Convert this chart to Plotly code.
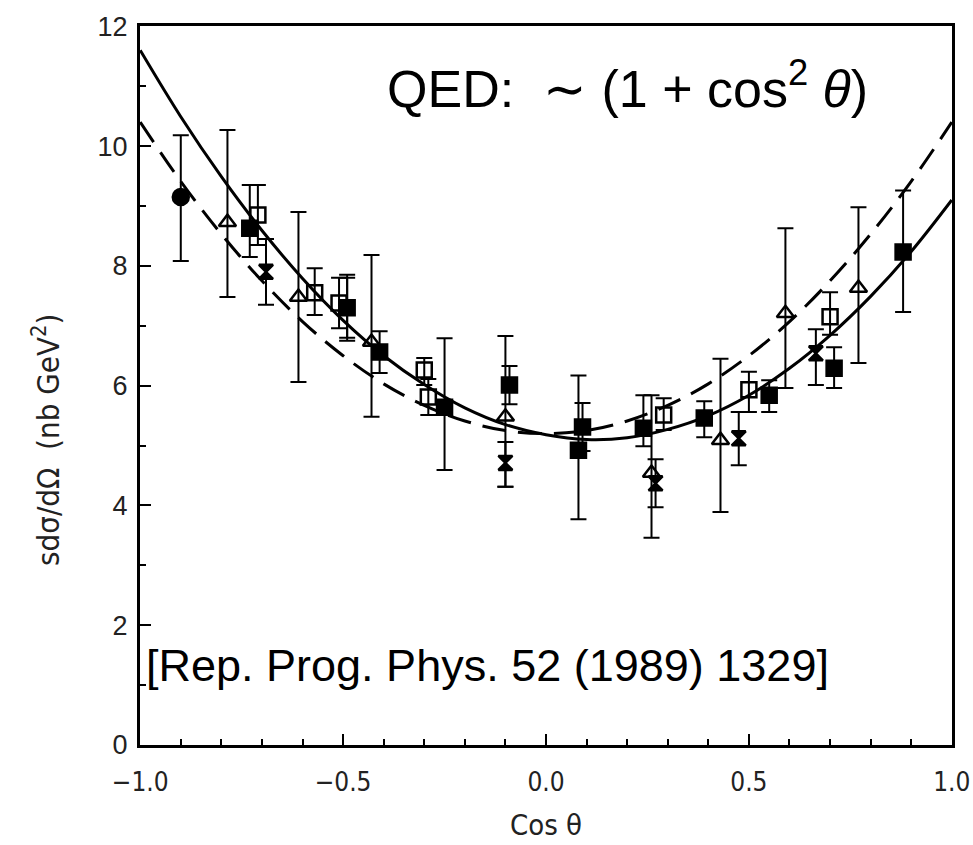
import plotly.graph_objects as go

# ---- theory curves ----
curve_x = [-1.0, -0.9, -0.8, -0.7, -0.6, -0.5, -0.4, -0.3, -0.2, -0.1, 0.0,
           0.1, 0.2, 0.3, 0.4, 0.5, 0.6, 0.7, 0.8, 0.9, 1.0]
solid_y = [11.60, 10.49, 9.49, 8.59, 7.79, 7.09, 6.50, 6.02, 5.63, 5.35, 5.18,
           5.10, 5.13, 5.27, 5.50, 5.84, 6.29, 6.84, 7.49, 8.24, 9.10]
dashed_y = [10.40, 9.41, 8.53, 7.75, 7.07, 6.50, 6.03, 5.67, 5.41, 5.25, 5.20,
            5.25, 5.41, 5.67, 6.03, 6.50, 7.07, 7.75, 8.53, 9.41, 10.40]

# ---- data sets ----
fsq_x = [-0.73, -0.49, -0.41, -0.25, -0.09, 0.08, 0.09, 0.24, 0.39, 0.55, 0.71, 0.88]
fsq_y = [8.63, 7.30, 6.56, 5.64, 6.01, 4.92, 5.31, 5.29, 5.46, 5.84, 6.29, 8.23]
fsq_ep = [0.72, 0.55, 0.35, 1.15, 0.32, 1.25, 0.40, 0.55, 0.28, 0.25, 0.35, 1.03]
fsq_em = [0.48, 0.55, 0.35, 1.05, 0.32, 1.15, 0.40, 0.30, 0.32, 0.28, 0.33, 1.00]

osq_x = [-0.71, -0.57, -0.51, -0.30, -0.29, 0.29, 0.50, 0.70]
osq_y = [8.85, 7.55, 7.38, 6.26, 5.81, 5.51, 5.93, 7.15]
osq_ep = [0.50, 0.41, 0.42, 0.20, 0.30, 0.28, 0.30, 0.41]
osq_em = [0.50, 0.37, 0.42, 0.25, 0.30, 0.25, 0.37, 0.30]

tri_x = [-0.785, -0.61, -0.43, -0.10, 0.26, 0.43, 0.59, 0.77]
tri_y = [8.73, 7.48, 6.73, 5.48, 4.54, 5.09, 7.21, 7.63]
tri_ep = [1.54, 1.42, 1.45, 1.35, 1.30, 1.36, 1.42, 1.35]
tri_em = [1.25, 1.42, 1.25, 1.17, 1.08, 1.20, 1.25, 1.25]

crs_x = [-0.69, -0.49, -0.10, 0.27, 0.475, 0.665]
crs_y = [7.90, 7.30, 4.71, 4.37, 5.12, 6.54]
crs_ep = [0.55, 0.50, 0.35, 0.40, 0.44, 0.40]
crs_em = [0.55, 0.50, 0.40, 0.40, 0.45, 0.53]

cir_x = [-0.90]
cir_y = [9.15]
cir_ep = [1.03]
cir_em = [1.07]

x_ticks = [-1.0, -0.5, 0.0, 0.5, 1.0]
x_ticklabels = ["\u22121.0", "\u22120.5", "0.0", "0.5", "1.0"]
y_ticks = [0, 2, 4, 6, 8, 10, 12]

fig = go.Figure()

fig.add_trace(go.Scatter(x=curve_x, y=dashed_y, mode="lines",
                         line=dict(color="black", width=3, dash="24px,12px", shape="spline"),
                         showlegend=False, hoverinfo="skip"))
fig.add_trace(go.Scatter(x=curve_x, y=solid_y, mode="lines",
                         line=dict(color="black", width=3, shape="spline"),
                         showlegend=False, hoverinfo="skip"))


def add_set(xs, ys, ep, em, symbol, size):
    fig.add_trace(go.Scatter(
        x=xs, y=ys, mode="markers",
        marker=dict(symbol=symbol, size=size, color="black",
                    line=dict(color="black", width=2.5)),
        error_y=dict(type="data", symmetric=False, array=ep, arrayminus=em,
                     color="black", thickness=2, width=8),
        showlegend=False))


add_set(tri_x, tri_y, tri_ep, tri_em, "triangle-up-open", 15)
add_set(osq_x, osq_y, osq_ep, osq_em, "square-open", 15)
add_set(crs_x, crs_y, crs_ep, crs_em, "hourglass", 14)
add_set(fsq_x, fsq_y, fsq_ep, fsq_em, "square", 15)
add_set(cir_x, cir_y, cir_ep, cir_em, "circle", 16)

narrow = "Liberation Sans Narrow, DejaVu Sans Condensed, DejaVu Sans"
axis_font = dict(family=narrow, size=26, color="#222")

fig.update_xaxes(range=[-1.0005, 1.0005], tickmode="array", tickvals=x_ticks, ticktext=x_ticklabels,
                 ticks="inside", ticklen=11, tickwidth=2, tickcolor="black",
                 minor=dict(dtick=0.1, tick0=0, ticks="inside", ticklen=6, tickwidth=2, tickcolor="black"),
                 showline=True, linecolor="black", linewidth=3, mirror=True,
                 showgrid=False, zeroline=False, tickfont=axis_font, ticklabelstandoff=12,
                 ticklabeloverflow="allow", automargin=False)
fig.update_yaxes(range=[0, 12.005], tickmode="array", tickvals=y_ticks,
                 ticks="inside", ticklen=11, tickwidth=2, tickcolor="black",
                 minor=dict(dtick=1, ticks="inside", ticklen=6, tickwidth=2, tickcolor="black"),
                 showline=True, linecolor="black", linewidth=3, mirror=True,
                 showgrid=False, zeroline=False,
                 tickfont=dict(family="Liberation Sans, Arial", size=27, color="#222"),
                 ticklabelstandoff=4, ticklabeloverflow="allow", automargin=False)

fig.add_annotation(text="QED:  \u223c (1 + cos<sup>2</sup> <i>\u03b8</i>)",
                   xref="paper", yref="paper", x=0.60, y=0.918,
                   xanchor="center", yanchor="middle", showarrow=False,
                   font=dict(family="Liberation Sans, Arial", size=52, color="black"))
fig.add_annotation(text="[Rep. Prog. Phys. 52 (1989) 1329]",
                   xref="paper", yref="paper", x=0.428, y=0.111,
                   xanchor="center", yanchor="middle", showarrow=False,
                   font=dict(family="Liberation Sans, Arial", size=45, color="black"))
fig.add_annotation(text="Cos \u03b8", xref="paper", yref="paper", x=0.5, y=-0.111,
                   xanchor="center", yanchor="middle", showarrow=False,
                   font=dict(family=narrow, size=29, color="#222"))
fig.add_annotation(text="sd\u03c3/d\u03a9  (nb GeV<sup>2</sup>)", xref="paper", yref="paper",
                   x=-0.116, y=0.424, textangle=-90,
                   xanchor="center", yanchor="middle", showarrow=False,
                   font=dict(family=narrow, size=31, color="#222"))

fig.update_layout(width=973, height=845, margin=dict(l=140, r=21, t=26, b=100),
                  plot_bgcolor="white", paper_bgcolor="white")

fig.write_html("out.html")
